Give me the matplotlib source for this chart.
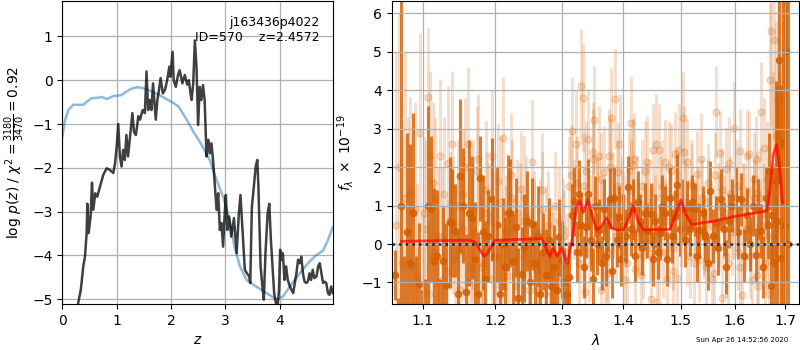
import matplotlib
matplotlib.use("Agg")
import matplotlib.pyplot as plt
from matplotlib.ticker import FixedLocator, FormatStrFormatter, NullLocator

# ---------------- left panel data: log p(z) ----------------
z_pz = [0.25, 0.29, 0.34, 0.386, 0.417, 0.448, 0.46, 0.485, 0.52, 0.546, 0.57, 0.607, 0.644, 0.693,
        0.754, 0.816, 0.877, 0.938, 0.97, 1.0, 1.03, 1.06, 1.09, 1.12, 1.15, 1.18, 1.21, 1.26, 1.29,
        1.32, 1.355, 1.40, 1.43, 1.48, 1.52, 1.55, 1.58, 1.61, 1.64, 1.67, 1.72, 1.75, 1.78, 1.81,
        1.85, 1.89, 1.93, 1.97, 1.99, 2.03, 2.05, 2.09, 2.13, 2.16, 2.21, 2.255, 2.30, 2.33, 2.36,
        2.38, 2.41, 2.44, 2.47, 2.50, 2.53, 2.56, 2.59, 2.62, 2.655, 2.69, 2.715, 2.745, 2.775, 2.81,
        2.84, 2.87, 2.90, 2.93, 2.96, 2.99, 3.01, 3.04, 3.07, 3.11, 3.16, 3.21, 3.25, 3.28, 3.32,
        3.36, 3.40, 3.44, 3.46, 3.49, 3.52, 3.56, 3.59, 3.61, 3.65, 3.69, 3.71, 3.74, 3.78, 3.81,
        3.84, 3.87, 3.90, 3.93, 3.96, 3.99, 4.01, 4.04, 4.06, 4.09, 4.12, 4.15, 4.19, 4.22, 4.25,
        4.28, 4.31, 4.34, 4.37, 4.40, 4.43, 4.46, 4.49, 4.52, 4.55, 4.58, 4.61, 4.64, 4.68, 4.71,
        4.74, 4.77, 4.80, 4.83, 4.86, 4.89, 4.92, 4.95, 4.98]
logpz = [-5.6, -5.1, -4.79, -4.25, -4.03, -3.49, -2.82, -3.49, -3.11, -2.34, -2.96, -2.58, -2.66, -2.43,
         -2.16, -2.01, -2.05, -2.12, -1.90, -1.52, -1.0, -1.74, -1.97, -1.59, -1.82, -1.25, -1.74, -1.13, -0.75,
         -1.18, -1.25, -0.82, -0.90, -0.68, -0.75, 0.2, -0.68, -0.45, -0.68, -0.07, -0.9, -0.45, -0.22, 0.05,
         -0.3, -0.22, 0.0, 0.31, 0.08, 0.65, 0.0, -0.15, 0.12, 0.23, -0.07, 0.12, -0.1, 0.0, -0.3,
         -0.45, -0.07, 0.91, 0.31, -1.02, -0.15, -0.45, -0.11, -0.45, -1.74, -1.36, -1.67, -1.44, -1.82, -2.43,
         -2.96, -2.58, -3.42, -3.26, -3.80, -3.04, -2.62, -3.42, -3.11, -3.57, -3.15, -3.95, -3.04, -2.62, -3.49,
         -4.33, -4.41, -4.48, -4.63, -2.89, -2.51, -1.97, -1.82, -2.43, -4.25, -4.79, -5.01, -3.95, -3.04, -2.82,
         -3.65, -4.25, -4.86, -5.08, -5.2, -4.79, -3.87, -4.1, -3.95, -4.56, -4.25, -4.56, -4.71, -4.79, -4.86,
         -4.63, -4.41, -4.1, -4.18, -4.03, -4.41, -4.6, -4.63, -4.6, -4.41, -4.56, -4.33, -4.52, -4.48, -4.25,
         -4.18, -4.41, -4.63, -4.6, -4.63, -4.86, -4.9, -4.71, -4.86]

z_prior = [0.0, 0.05, 0.11, 0.2, 0.386, 0.45, 0.54, 0.66, 0.72, 0.82, 0.94, 1.09, 1.18, 1.275, 1.37, 1.46,
           1.58, 1.74, 1.86, 2.01, 2.14, 2.29, 2.41, 2.53, 2.715, 2.84, 2.96, 3.08, 3.17, 3.27, 3.39, 3.57,
           3.76, 3.91, 3.97, 4.06, 4.19, 4.37, 4.55, 4.68, 4.80, 4.89, 4.98]
prior = [-1.29, -0.91, -0.68, -0.56, -0.56, -0.49, -0.41, -0.40, -0.38, -0.43, -0.36, -0.34, -0.26, -0.19,
         -0.16, -0.17, -0.22, -0.31, -0.39, -0.49, -0.60, -0.90, -1.17, -1.40, -1.82, -2.28, -2.66, -3.19,
         -3.80, -4.25, -4.56, -4.71, -4.86, -4.98, -4.99, -4.94, -4.71, -4.41, -4.14, -3.99, -3.89, -3.65, -3.35]

# ---------------- right panel data: spectrum ----------------
wave_bin = [1.064, 1.068, 1.072, 1.076, 1.079, 1.083, 1.087, 1.091, 1.095, 1.099,
            1.103, 1.107, 1.111, 1.115, 1.119, 1.123, 1.127, 1.131, 1.136, 1.140, 1.143, 1.147, 1.151,
            1.155, 1.159, 1.163, 1.167, 1.171, 1.175, 1.178, 1.182, 1.186, 1.190, 1.195, 1.199,
            1.203, 1.207, 1.211, 1.215, 1.219, 1.222, 1.226, 1.230, 1.234, 1.239, 1.243, 1.247, 1.251,
            1.255, 1.259, 1.263, 1.267, 1.271, 1.276, 1.280, 1.284, 1.288, 1.292, 1.296, 1.300, 1.304,
            1.308, 1.312, 1.316,
            1.320, 1.324, 1.328, 1.331, 1.335, 1.339, 1.342, 1.346, 1.349, 1.353, 1.356, 1.360, 1.364,
            1.368, 1.371, 1.374, 1.377, 1.381, 1.385, 1.389, 1.392, 1.396, 1.400, 1.404, 1.408, 1.412,
            1.416, 1.420, 1.424, 1.428, 1.432, 1.437, 1.441, 1.447, 1.451, 1.455, 1.459, 1.463, 1.467,
            1.471, 1.476, 1.481, 1.485, 1.489, 1.494, 1.498, 1.503, 1.507, 1.512, 1.516, 1.520, 1.525,
            1.529, 1.534, 1.540, 1.545, 1.549, 1.554, 1.559, 1.565, 1.569, 1.574, 1.579, 1.584, 1.590,
            1.595, 1.602, 1.607, 1.613, 1.618, 1.625, 1.630, 1.636, 1.641, 1.646, 1.651, 1.656, 1.661,
            1.665, 1.668, 1.672, 1.674,
            1.677, 1.681, 1.684, 1.688, 1.692, 1.696, 1.700, 1.703, 1.707]
flux_bin = [-0.8, -4.0, 1.0, -3.0, 0.3, -0.5, 0.8, -2.5, -1.05, -3.0,
            -2.5, 1.0, 0.9, -0.45, -0.3, -2.2, -0.45, -1.06, 0.56, 0.55, 0.35, -1.3, 1.76,
            1.0, -1.24, 0.81, 0.68, -0.4, -1.3, 1.71, 0.3, -0.9, 0.2, 1.16, -0.3,
            0.5, -1.3, 0.0, -0.6, 0.81, 0.81, -0.43, 0.43, -1.4, -0.77, -0.1, 0.6, -1.0,
            0.53, -0.5, 0.2, -1.3, -0.2, -0.8, 0.1, -1.1, -0.6, -1.2, 0.18, -0.41, -1.0,
            -1.3, -0.86, 0.76,
            1.11, -0.2, 1.29, 0.5, -0.6, 0.43, 1.3, 0.1, -0.9, 0.98, 0.0, 0.36, -0.5,
            0.9, -0.3, 0.5, 1.18, -0.7, 1.2, 0.1, 0.7, -0.4, 0.5, 0.2, 1.49, 0.4,
            0.9, -0.3, 1.1, 0.6, -0.1, 0.8, 0.33, 0.79, -0.4, 0.6, -0.2, 0.29, 1.0,
            0.81, -0.4, 1.2, 0.2, 0.7, 1.53, 0.4, 0.9, 0.1, 0.94, 0.4, 1.1, 0.9,
            -0.3, 0.37, 0.8, 0.24, -0.5, 1.37, 0.2, 0.55, -0.1, 1.16, 0.4, -0.6, 0.59,
            1.0, 1.2, 0.3, 1.16, -0.3, 0.76, 0.0, 1.0, -0.28, 0.9, 0.33, -0.6, 1.2,
            0.5, 1.89, -1.1, 0.76,
            -0.5, 1.63, 0.6, 4.78, -0.37, 2.64, 0.5, 5.03, 0.0]
err_bin = [0.65, 2.6, 6.0, 2.7, 2.6, 3.1, 2.6, 2.2, 1.6, 1.8,
           1.6, 2.6, 1.9, 1.9, 1.7, 1.3, 1.4, 1.6, 1.7, 1.4, 1.2, 1.6, 2.0,
           1.5, 1.5, 1.9, 1.6, 1.5, 1.6, 1.1, 1.5, 1.5, 1.2, 1.6, 1.4,
           1.5, 1.4, 1.2, 1.3, 1.5, 1.4, 1.2, 1.3, 1.3, 1.2, 1.4, 1.3, 1.2,
           1.2, 1.1, 1.3, 1.1, 1.0, 1.2, 1.1, 1.0, 1.1, 1.0, 1.0, 1.0, 0.9,
           0.8, 0.9, 0.8,
           0.9, 0.8, 0.9, 0.8, 0.8, 0.8, 0.9, 0.8, 0.8, 0.8, 0.8, 0.8, 0.7,
           0.8, 0.8, 0.7, 0.8, 0.7, 0.8, 0.7, 0.8, 0.7, 0.8, 0.7, 0.8, 0.7,
           0.8, 0.7, 0.8, 0.7, 0.7, 0.8, 0.7, 0.8, 0.7, 0.7, 0.7, 0.7, 0.8,
           0.7, 0.7, 0.8, 0.7, 0.7, 0.8, 0.7, 0.8, 0.7, 0.7, 0.7, 0.7, 0.7,
           0.7, 0.7, 0.7, 0.7, 0.7, 0.8, 0.7, 0.7, 0.7, 0.8, 0.7, 0.7, 0.7,
           0.7, 0.8, 0.7, 0.7, 0.7, 0.7, 0.7, 0.8, 0.7, 0.8, 0.7, 0.8, 0.8,
           0.9, 1.0, 1.1, 1.2,
           2.5, 2.6, 3.5, 3.2, 4.5, 5.5, 8.0, 6.0, 9.0]

# unbinned spectrum, beam 1
wave_raw = [1.065, 1.069, 1.073, 1.077, 1.081, 1.083, 1.086, 1.090, 1.093, 1.097, 1.100, 1.104, 1.107,
            1.110, 1.113, 1.116, 1.120, 1.123, 1.126, 1.129, 1.133, 1.136, 1.140, 1.143, 1.147, 1.150,
            1.154, 1.158, 1.162, 1.165, 1.169, 1.172, 1.176, 1.180, 1.183, 1.187, 1.191, 1.195, 1.200,
            1.204, 1.208, 1.212, 1.216, 1.220, 1.224, 1.228, 1.232, 1.238, 1.242, 1.246, 1.250, 1.254,
            1.258, 1.262, 1.266, 1.270, 1.274, 1.278, 1.282, 1.286, 1.290, 1.295, 1.300, 1.304, 1.308,
            1.312, 1.316, 1.320, 1.324, 1.327, 1.331, 1.334, 1.337, 1.339, 1.342, 1.345, 1.349, 1.352,
            1.356, 1.359, 1.362, 1.365, 1.368, 1.372, 1.375, 1.378, 1.380, 1.383, 1.386, 1.389, 1.391,
            1.395, 1.398, 1.402, 1.405, 1.409, 1.413, 1.416, 1.419, 1.423, 1.427, 1.431, 1.434, 1.438,
            1.441, 1.445, 1.448, 1.451, 1.455, 1.458, 1.462, 1.465, 1.469, 1.472, 1.476, 1.480, 1.483,
            1.486, 1.490, 1.493, 1.497, 1.500, 1.504, 1.508, 1.512, 1.516, 1.520, 1.525, 1.529, 1.534,
            1.538, 1.542, 1.546, 1.550, 1.555, 1.561, 1.564, 1.568, 1.573, 1.576, 1.580, 1.584, 1.588,
            1.592, 1.595, 1.599, 1.603, 1.607, 1.611, 1.615, 1.619, 1.623, 1.628, 1.631, 1.634, 1.637,
            1.641, 1.644, 1.646, 1.649, 1.652, 1.656, 1.660, 1.664, 1.667, 1.670, 1.672, 1.675, 1.678,
            1.681, 1.685, 1.689, 1.693]
flux_raw = [0.5, 2.0, -0.5, 1.2, 0.3, 1.33, -0.58, 0.9, -0.84, 2.9, -1.2, 0.4, 3.83,
            2.29, -0.3, 1.2, -1.0, 2.30, 0.2, 1.31, -0.7, 0.6, 2.6, -0.4, 1.0, -1.2,
            0.4, 2.0, 2.61, -0.6, 0.9, -1.1, 2.2, 0.1, -0.5, 1.4, 0.6, -0.9, 0.29,
            1.63, -1.1, 2.75, 0.3, -0.83, 1.2, -0.41, 0.8, 1.43, -0.3, 0.7, -1.2, 2.14,
            0.2, -0.7, 0.29, 1.4, -1.3, 0.5, -0.8, -0.67, -1.1, 0.6, -0.89, 0.2, -1.4,
            1.5, 2.94, 0.9, 1.6, -0.5, 4.1, 3.81, -1.25, 1.9, 2.72, 0.6, 2.2, 3.22,
            1.0, 2.29, -1.19, 0.4, 1.88, -0.2, -0.76, 2.0, 3.27, 0.8, 3.77, 1.5, 1.88,
            0.2, 1.2, -0.93, 0.6, 1.9, 3.16, 2.05, -0.64, 1.1, 0.3, 1.5, -0.3, 0.9,
            2.14, 0.1, -1.43, 2.44, 0.7, -1.5, 2.44, 1.2, -0.2, 2.14, -0.91, 0.8, 1.91,
            -0.1, 2.33, -0.89, 2.44, 0.5, 3.27, 1.1, 2.14, -0.3, 1.5, 0.7, 1.83, -0.41,
            1.2, 0.2, -0.6, 1.6, 0.5, -0.76, 3.44, 1.0, 2.36, -1.41, 0.8, 1.94, -0.5,
            1.3, 0.3, 3.03, 0.9, -0.2, 2.42, -1.32, 1.1, 0.4, 2.33, -0.3, -0.93, 1.2,
            2.22, 1.33, -1.1, 0.5, 3.43, 0.8, -0.5, 1.7, -1.3, 4.26, 5.55, 2.0, 5.3,
            2.8, 3.77, 0.5, 6.5]
err_raw = [4.5, 4.0, 3.5, 3.8, 3.0, 2.5, 2.6, 2.8, 2.4, 2.6, 2.2, 2.3, 1.8,
           2.2, 2.0, 2.1, 1.9, 2.0, 1.8, 2.0, 1.9, 1.8, 1.9, 2.0, 1.7, 1.8,
           1.9, 1.8, 2.0, 1.7, 1.8, 1.6, 1.7, 1.9, 1.6, 1.8, 1.5, 1.7, 1.6,
           1.5, 1.7, 1.6, 1.5, 1.6, 1.5, 1.6, 1.4, 1.5, 1.4, 1.6, 1.4, 1.6,
           1.5, 1.3, 1.4, 1.5, 1.3, 1.4, 1.3, 1.5, 1.2, 1.4, 1.3, 1.2, 1.3,
           1.3, 1.4, 1.3, 1.2, 1.3, 1.5, 1.4, 1.2, 1.3, 1.3, 1.2, 1.3, 1.4,
           1.2, 1.3, 1.2, 1.3, 1.2, 1.3, 1.2, 1.3, 1.3, 1.2, 1.3, 1.2, 1.3,
           1.2, 1.1, 1.2, 1.2, 1.1, 1.2, 1.2, 1.1, 1.2, 1.1, 1.2, 1.1, 1.2,
           1.2, 1.1, 1.2, 1.2, 1.1, 1.1, 1.2, 1.1, 1.2, 1.1, 1.1, 1.1, 1.2,
           1.1, 1.1, 1.1, 1.2, 1.1, 1.2, 1.1, 1.1, 1.1, 1.1, 1.0, 1.1, 1.1,
           1.0, 1.1, 1.1, 1.0, 1.1, 1.1, 1.2, 1.1, 1.1, 1.1, 1.0, 1.1, 1.1,
           1.0, 1.1, 1.2, 1.1, 1.0, 1.1, 1.1, 1.0, 1.1, 1.1, 1.1, 1.1, 1.0,
           1.1, 1.1, 1.2, 1.2, 1.3, 1.3, 1.4, 1.5, 1.6, 2.0, 2.5, 2.5, 3.0,
           3.0, 3.5, 4.0, 4.0]

# unbinned spectrum, beam 2
wave_raw2 = [1.102, 1.108, 1.114, 1.121, 1.127, 1.134, 1.141, 1.148, 1.155, 1.161,
             1.167, 1.174, 1.181, 1.188, 1.195, 1.202, 1.209, 1.216, 1.223, 1.230,
             1.236, 1.243, 1.250, 1.257, 1.263, 1.269, 1.276, 1.283, 1.289, 1.296,
             1.302, 1.309, 1.315, 1.322, 1.329, 1.336, 1.343, 1.350, 1.357, 1.363,
             1.370, 1.376, 1.382, 1.388, 1.394, 1.400, 1.406, 1.412, 1.418, 1.424,
             1.430, 1.436, 1.443, 1.449, 1.456, 1.461, 1.467, 1.474, 1.479, 1.486,
             1.492, 1.498, 1.505, 1.511, 1.518, 1.524, 1.531, 1.537, 1.543, 1.550,
             1.557, 1.563, 1.570, 1.577, 1.583, 1.590, 1.597, 1.604, 1.610, 1.617,
             1.624, 1.630, 1.637, 1.643, 1.650, 1.657, 1.663]
flux_raw2 = [0.8, -1.3, 1.6, 0.2, -0.9, 2.1, 0.5, -0.2, 1.3, -1.0,
             0.3, 1.9, -0.6, 0.8, 2.3, -0.4, 1.1, 0.0, 1.8, -1.1,
             0.6, 1.2, -0.5, 0.4, -1.2, 0.9, 0.1, -0.3, 1.0, -1.0,
             0.4, -0.6, 1.8, 2.6, 0.3, 1.5, -0.2, 2.4, 0.9, 1.7,
             -0.4, 2.3, 1.1, 0.2, 2.6, 0.7, -0.5, 1.4, 2.2, 0.5,
             -0.8, 1.9, 1.0, 0.3, 2.6, -0.2, 1.5, 0.6, 2.0, -0.7,
             1.3, 0.8, 2.4, 0.1, 1.6, -0.5, 0.9, 2.2, 0.3, 1.1,
             -0.9, 1.8, 0.6, 1.4, -0.3, 2.1, 0.7, 1.5, -0.6, 1.0,
             2.3, 0.4, 1.7, -0.8, 1.2, 2.5, 0.2]
err_raw2 = [2.0, 1.9, 2.1, 1.8, 1.9, 2.0, 1.8, 1.9, 1.7, 1.8,
            1.8, 1.7, 1.8, 1.6, 1.7, 1.6, 1.7, 1.5, 1.6, 1.5,
            1.5, 1.6, 1.4, 1.5, 1.4, 1.5, 1.4, 1.3, 1.4, 1.3,
            1.3, 1.4, 1.3, 1.4, 1.3, 1.4, 1.3, 1.3, 1.4, 1.2,
            1.3, 1.2, 1.3, 1.2, 1.3, 1.2, 1.2, 1.3, 1.2, 1.2,
            1.2, 1.3, 1.2, 1.2, 1.3, 1.2, 1.2, 1.1, 1.2, 1.2,
            1.2, 1.1, 1.2, 1.2, 1.1, 1.2, 1.1, 1.2, 1.1, 1.1,
            1.2, 1.1, 1.2, 1.1, 1.1, 1.2, 1.1, 1.2, 1.1, 1.1,
            1.2, 1.1, 1.2, 1.2, 1.3, 1.3, 1.4]

wave_model = [1.0726, 1.10, 1.13, 1.164, 1.171, 1.184, 1.189, 1.1998, 1.24, 1.269, 1.2816, 1.2868,
              1.293, 1.300, 1.3087, 1.3156, 1.3235, 1.3287, 1.334, 1.342, 1.347, 1.3556, 1.364, 1.372,
              1.380, 1.389, 1.400, 1.408, 1.4168, 1.425, 1.434, 1.4805, 1.4894, 1.500, 1.5074, 1.5196,
              1.5594, 1.5975, 1.6629, 1.669, 1.676, 1.683, 1.689, 1.695]
flux_model = [0.07, 0.08, 0.09, 0.10, 0.06, -0.32, -0.25, 0.10, 0.12, 0.14, -0.32, -0.10,
              -0.32, -0.10, -0.50, 0.05, 0.98, 1.12, 0.82, 1.15, 0.82, 0.37, 0.46, 0.68,
              0.42, 0.37, 0.37, 0.63, 0.98, 0.59, 0.37, 0.38, 0.72, 1.15, 0.82, 0.51,
              0.59, 0.71, 0.86, 1.33, 2.30, 2.59, 2.00, 1.07]

root_name = "j163436p4022"
obj_id = 570
z_best = 2.4572
chi2_num, chi2_den, chi2_red = 3180, 3470, 0.92
timestamp = "Sun Apr 26 14:52:56 2020"

# ---------------- figure ----------------
fig = plt.figure(figsize=(8, 3.5), dpi=100)
axl = fig.add_axes([0.0779, 0.1314, 0.3388, 0.8657])
axr = fig.add_axes([0.4896, 0.1314, 0.5095, 0.8657])

grid_kw = dict(color='#b0b0b0', linewidth=0.9)

# left panel
axl.plot(z_prior, prior, color='tab:blue', alpha=0.5, lw=1.8, zorder=2)
axl.plot(z_pz, logpz, color='k', alpha=0.75, lw=1.8, zorder=3)
axl.set_xlim(0, 4.99)
axl.set_ylim(-5.11, 1.81)
axl.set_xticks([0, 1, 2, 3, 4])
axl.set_yticks([-5, -4, -3, -2, -1, 0, 1])
axl.grid(True, **grid_kw)
axl.set_xlabel(r'$z$')
axl.set_ylabel(r'log $p(z)$ / $\chi^2=\frac{%d}{%d}=%.2f$' % (chi2_num, chi2_den, chi2_red))
axl.text(0.95, 0.95, '%s\nID=%d    z=%.4f' % (root_name, obj_id, z_best), ha='right', va='top',
         transform=axl.transAxes, fontsize=9, zorder=5)

# right panel
col = '#D55E00'
for w, f, e in ((wave_raw, flux_raw, err_raw), (wave_raw2, flux_raw2, err_raw2)):
    axr.errorbar(w, f, yerr=e, color=col, alpha=0.2, marker='o', ms=5,
                 linestyle='None', elinewidth=2.2, capsize=0, zorder=1)
axr.errorbar(wave_bin, flux_bin, yerr=err_bin, color=col, alpha=0.8, marker='o', ms=4.5,
             linestyle='None', elinewidth=2.2, capsize=0, zorder=1)
axr.plot(wave_model, flux_model, color='r', alpha=0.7, lw=2, zorder=3)
axr.axhline(0, color='k', linestyle=':', lw=1.8, alpha=0.8, zorder=4)
axr.set_xscale('log')
axr.set_xlim(1.0597, 1.7295)
axr.set_ylim(-1.56, 6.32)
axr.xaxis.set_major_locator(FixedLocator([1.1, 1.2, 1.3, 1.4, 1.5, 1.6, 1.7]))
axr.xaxis.set_major_formatter(FormatStrFormatter('%.1f'))
axr.xaxis.set_minor_locator(NullLocator())
axr.set_yticks([-1, 0, 1, 2, 3, 4, 5, 6])
axr.grid(True, **grid_kw)
axr.set_xlabel(r'$\lambda$')
axr.set_ylabel(r'$f_\lambda\ \times\ 10^{-19}$')

fig.text(0.985, 0.02, timestamp, ha='right', va='bottom', fontsize=5)

fig.savefig('out.png', dpi=100)
